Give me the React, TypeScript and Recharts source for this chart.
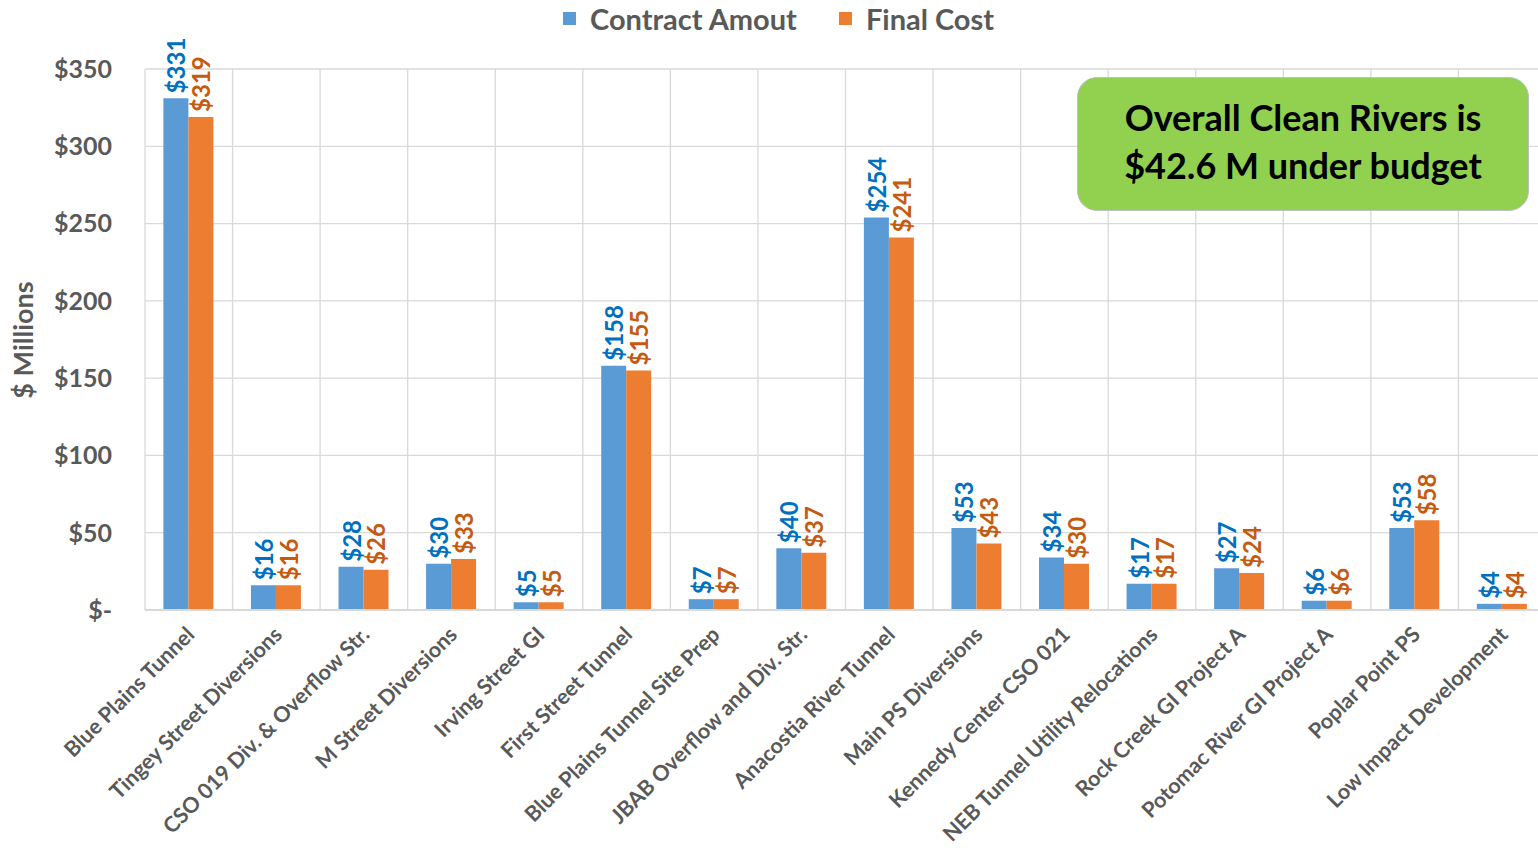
import { Bar, BarChart, CartesianGrid, LabelList, XAxis, YAxis } from 'recharts';

const projects = [
    'Blue Plains Tunnel',
    'Tingey Street Diversions',
    'CSO 019 Div. &  Overflow Str.',
    'M Street Diversions',
    'Irving Street GI',
    'First Street Tunnel',
    'Blue Plains Tunnel Site Prep',
    'JBAB Overflow and Div. Str.',
    'Anacostia River Tunnel',
    'Main PS Diversions',
    'Kennedy Center CSO 021',
    'NEB Tunnel Utility Relocations',
    'Rock Creek GI Project A',
    'Potomac River GI Project A',
    'Poplar Point PS',
    'Low Impact Development',
];

const contractAmount = [331, 16, 28, 30, 5, 158, 7, 40, 254, 53, 34, 17, 27, 6, 53, 4];
const finalCost = [319, 16, 26, 33, 5, 155, 7, 37, 241, 43, 30, 17, 24, 6, 58, 4];

const yTicks = [0, 50, 100, 150, 200, 250, 300, 350];

const data = projects.map((name, i) => ({
    name,
    contract: contractAmount[i],
    final: finalCost[i],
}));

const FONT = 'Lato, "Open Sans", sans-serif';
const GREY = '#595959';

const money = (v: number) => (v === 0 ? '$-' : `$${v}`);

function valueLabel(color: string) {
    return (props: any) => {
        const { x, y, width, value } = props;
        const cx = Number(x) + Number(width) / 2;
        const cy = Number(y) - 5;
        return (
            <text
                x={cx}
                y={cy}
                transform={`rotate(-90, ${cx}, ${cy})`}
                textAnchor="start"
                dominantBaseline="central"
                fill={color}
                fontFamily={FONT}
                fontWeight={700}
                fontSize={24}
            >
                {money(value)}
            </text>
        );
    };
}

function CategoryTick(props: any) {
    const { x, y, payload } = props;
    const tx = x + 7;
    const ty = y + 18;
    return (
        <text
            x={tx}
            y={ty}
            transform={`rotate(-45, ${tx}, ${ty})`}
            textAnchor="end"
            fill={GREY}
            fontFamily={FONT}
            fontWeight={700}
            fontSize={21.5}
        >
            {payload.value}
        </text>
    );
}

export default function App() {
    return (
        <div
            style={{
                position: 'absolute',
                left: 0,
                top: 0,
                width: 1538,
                height: 851,
                overflow: 'hidden',
                background: '#fff',
                fontFamily: FONT,
            }}
        >
            <BarChart
                width={1546}
                height={851}
                data={data}
                margin={{ top: 69, right: 0, left: 0, bottom: 0 }}
                barCategoryGap="21%"
                barGap={0}
            >
                <CartesianGrid
                    stroke="#D9D9D9"
                    strokeWidth={1.3}
                    verticalCoordinatesGenerator={({ offset }: any) =>
                        Array.from(
                            { length: projects.length + 1 },
                            (_, i) => offset.left + (i * offset.width) / projects.length,
                        )
                    }
                />
                <XAxis
                    dataKey="name"
                    interval={0}
                    height={241}
                    tickLine={false}
                    axisLine={{ stroke: '#D9D9D9', strokeWidth: 2 }}
                    tick={<CategoryTick />}
                />
                <YAxis
                    width={145}
                    domain={[0, 350]}
                    ticks={yTicks}
                    tickFormatter={money}
                    tickLine={false}
                    axisLine={false}
                    tickSize={0}
                    tickMargin={33}
                    tick={{ fill: GREY, fontFamily: FONT, fontWeight: 700, fontSize: 25 }}
                />
                <Bar dataKey="contract" fill="#5B9BD5" isAnimationActive={false}>
                    <LabelList dataKey="contract" content={valueLabel('#0070C0')} />
                </Bar>
                <Bar dataKey="final" fill="#ED7D31" isAnimationActive={false}>
                    <LabelList dataKey="final" content={valueLabel('#C55A11')} />
                </Bar>
            </BarChart>

            {/* legend */}
            <div
                style={{
                    position: 'absolute',
                    top: 1,
                    left: 563,
                    display: 'flex',
                    alignItems: 'center',
                    color: GREY,
                    fontWeight: 700,
                    fontSize: 29,
                    whiteSpace: 'nowrap',
                }}
            >
                <span style={{ width: 13, height: 13, background: '#5B9BD5', marginRight: 14 }} />
                <span>Contract Amout</span>
                <span style={{ width: 13, height: 13, background: '#ED7D31', marginLeft: 42, marginRight: 14 }} />
                <span>Final Cost</span>
            </div>

            {/* y axis title */}
            <div
                style={{
                    position: 'absolute',
                    left: 22,
                    top: 340,
                    transform: 'translate(-50%, -50%) rotate(-90deg)',
                    color: GREY,
                    fontWeight: 700,
                    fontSize: 27,
                    whiteSpace: 'nowrap',
                }}
            >
                $ Millions
            </div>

            {/* callout */}
            <div
                style={{
                    position: 'absolute',
                    left: 1077,
                    top: 77,
                    width: 452,
                    height: 134,
                    boxSizing: 'border-box',
                    paddingBottom: 6,
                    background: '#92D050',
                    border: '1.5px solid #BFBFBF',
                    borderRadius: 20,
                    display: 'flex',
                    alignItems: 'center',
                    justifyContent: 'center',
                    textAlign: 'center',
                    color: '#000',
                    fontWeight: 700,
                    fontSize: 36,
                    lineHeight: '48px',
                }}
            >
                Overall Clean Rivers is
                <br />
                $42.6 M under budget
            </div>
        </div>
    );
}
